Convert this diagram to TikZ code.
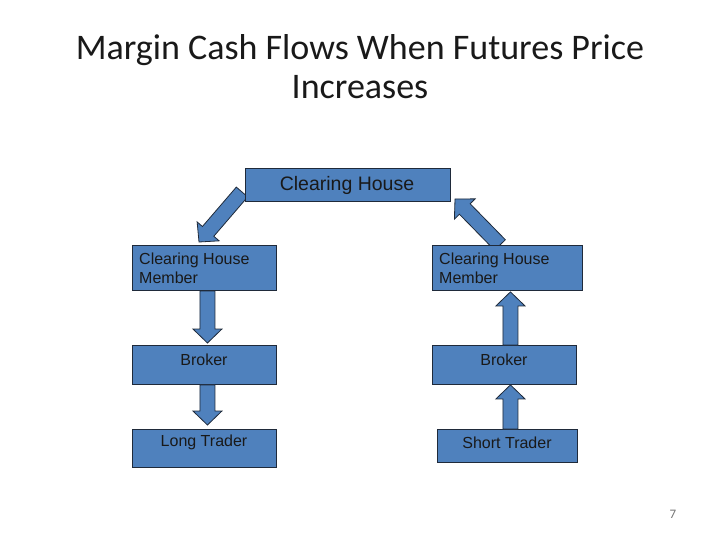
\documentclass[tikz,border=0pt]{standalone}
\usepackage{fontspec}
\setmainfont{Liberation Sans}
\newfontfamily\titlefont{Carlito}
\usetikzlibrary{calc}
\definecolor{boxblue}{HTML}{4F81BD}
\definecolor{boxline}{HTML}{1F2A3A}
\tikzset{
  box/.style={draw=boxline, line width=0.9pt, fill=boxblue, rectangle, inner sep=0pt, anchor=north west},
  boxtext/.style={font=\fontsize{16}{18.5}\selectfont, text=black!90, inner sep=0pt, align=left},
  blockarr/.style={draw=boxline, line width=0.8pt, fill=boxblue, line join=miter},
}
% block arrow from #1 (tail) to #2 (tip)
\newcommand\blockarrow[2]{%
  \coordinate (ta) at (#1);
  \coordinate (ti) at (#2);
  \coordinate (hb) at ($(ti)!14pt!(ta)$);
  \draw[blockarr] ($(ta)!7.5pt!90:(ti)$) -- ($(hb)!7.5pt!90:(ti)$) -- ($(hb)!14.5pt!90:(ti)$)
     -- (ti) -- ($(hb)!14.5pt!-90:(ti)$) -- ($(hb)!7.5pt!-90:(ti)$) -- ($(ta)!7.5pt!-90:(ti)$) -- cycle;
}
\begin{document}
\begin{tikzpicture}[x=1pt,y=-1pt]
\useasboundingbox (0,0) rectangle (720,540);
% title
\node[font=\titlefont\fontsize{36}{39}\selectfont, align=center, text=black!90] (title) at (360,67) {Margin Cash Flows When Futures Price\\Increases};

% boxes
\node[box, minimum width=205, minimum height=33] (ch) at (245,168) {};
\node[box, minimum width=144, minimum height=45] (chmL) at (132,245) {};
\node[box, minimum width=150, minimum height=45] (chmR) at (432,245) {};
\node[box, minimum width=144, minimum height=39] (brkL) at (132,345) {};
\node[box, minimum width=144, minimum height=39] (brkR) at (432,345) {};
\node[box, minimum width=144, minimum height=38] (ltr) at (132,429) {};
\node[box, minimum width=140, minimum height=33] (str) at (437,429) {};

% arrow end points
\coordinate (dLt) at (242,192);
\coordinate (dLh) at (199,242);
\coordinate (dRt) at (500,245);
\coordinate (dRh) at (455,199);
\blockarrow{dLt}{dLh}
\blockarrow{dRt}{dRh}
\blockarrow{$(chmL.south)+(3,0)$}{$(brkL.north)+(3,-2)$}
\blockarrow{$(brkL.south)+(3,0)$}{$(ltr.north)+(3,-4)$}
\blockarrow{$(brkR.north)+(6,0)$}{$(chmR.south)+(3,1)$}
\blockarrow{$(str.north)+(3,0)$}{$(brkR.south)+(6,0)$}

% redraw boxes over the diagonal arrow tails
\node[box, minimum width=205, minimum height=33] (ch2) at (245,168) {};
\node[box, minimum width=150, minimum height=45] (chmR2) at (432,245) {};
\node[box, minimum width=144, minimum height=45] (chmL2) at (132,245) {};

% texts
\node[boxtext, font=\fontsize{19.5}{22}\selectfont] (tch) at (347,185) {Clearing House};
\node[boxtext, anchor=north west] (tchmL) at (139,253) {Clearing House\\Member};
\node[boxtext, anchor=north west] (tchmR) at (439,253) {Clearing House\\Member};
\node[boxtext] (tbrkL) at (204,360) {Broker};
\node[boxtext] (tbrkR) at (504,360) {Broker};
\node[boxtext] (tltr) at (204,442) {Long Trader};
\node[boxtext] (tstr) at (507,443) {Short Trader};

% page number
\node[font=\titlefont\fontsize{13}{15}\selectfont, text=black!55] (pg) at (673,514) {7};
\end{tikzpicture}
\end{document}
